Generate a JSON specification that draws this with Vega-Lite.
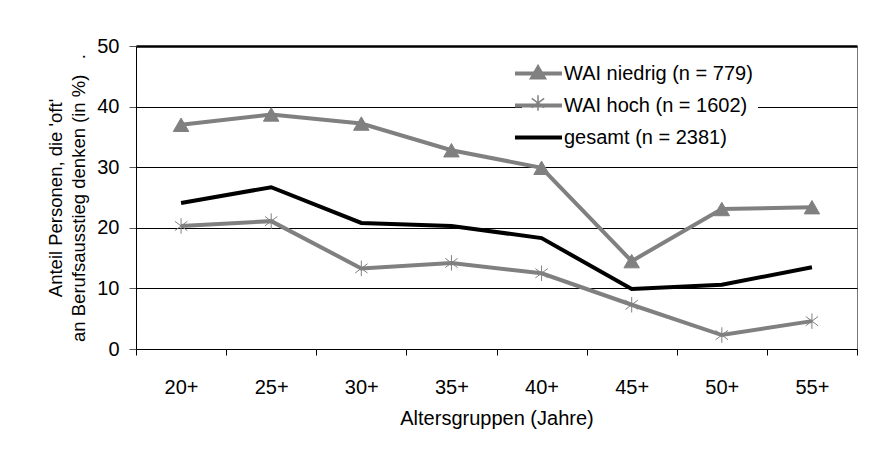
{
  "$schema": "https://vega.github.io/schema/vega-lite/v6.json",
  "width": 721,
  "height": 303,
  "autosize": "none",
  "padding": {"left": 136, "top": 46, "right": 23, "bottom": 102},
  "background": "white",
  "config": {
    "font": "Liberation Sans",
    "view": {"stroke": "#777", "strokeWidth": 1},
    "axis": {"labelColor": "#000", "titleColor": "#000", "titleFontWeight": "normal", "labelFont": "Liberation Sans", "titleFont": "Liberation Sans"},
    "legend": {"labelFont": "Liberation Sans", "labelColor": "#000", "labelLimit": 400}
  },
  "data": {
    "values": [
      {"gruppe": "20+", "serie": "WAI niedrig (n = 779)", "wert": 37.0},
      {"gruppe": "25+", "serie": "WAI niedrig (n = 779)", "wert": 38.7},
      {"gruppe": "30+", "serie": "WAI niedrig (n = 779)", "wert": 37.2},
      {"gruppe": "35+", "serie": "WAI niedrig (n = 779)", "wert": 32.8},
      {"gruppe": "40+", "serie": "WAI niedrig (n = 779)", "wert": 29.9},
      {"gruppe": "45+", "serie": "WAI niedrig (n = 779)", "wert": 14.5},
      {"gruppe": "50+", "serie": "WAI niedrig (n = 779)", "wert": 23.1},
      {"gruppe": "55+", "serie": "WAI niedrig (n = 779)", "wert": 23.4},
      {"gruppe": "20+", "serie": "WAI hoch (n = 1602)", "wert": 20.3},
      {"gruppe": "25+", "serie": "WAI hoch (n = 1602)", "wert": 21.1},
      {"gruppe": "30+", "serie": "WAI hoch (n = 1602)", "wert": 13.3},
      {"gruppe": "35+", "serie": "WAI hoch (n = 1602)", "wert": 14.2},
      {"gruppe": "40+", "serie": "WAI hoch (n = 1602)", "wert": 12.5},
      {"gruppe": "45+", "serie": "WAI hoch (n = 1602)", "wert": 7.3},
      {"gruppe": "50+", "serie": "WAI hoch (n = 1602)", "wert": 2.3},
      {"gruppe": "55+", "serie": "WAI hoch (n = 1602)", "wert": 4.6},
      {"gruppe": "20+", "serie": "gesamt (n = 2381)", "wert": 24.1},
      {"gruppe": "25+", "serie": "gesamt (n = 2381)", "wert": 26.7},
      {"gruppe": "30+", "serie": "gesamt (n = 2381)", "wert": 20.8},
      {"gruppe": "35+", "serie": "gesamt (n = 2381)", "wert": 20.3},
      {"gruppe": "40+", "serie": "gesamt (n = 2381)", "wert": 18.3},
      {"gruppe": "45+", "serie": "gesamt (n = 2381)", "wert": 9.9},
      {"gruppe": "50+", "serie": "gesamt (n = 2381)", "wert": 10.6},
      {"gruppe": "55+", "serie": "gesamt (n = 2381)", "wert": 13.5}
    ]
  },
  "encoding": {
    "x": {
      "field": "gruppe",
      "type": "ordinal",
      "sort": null,
      "scale": {"type": "band", "paddingInner": 0, "paddingOuter": 0},
      "axis": {
        "title": "Altersgruppen (Jahre)",
        "titleFontSize": 20,
        "titlePadding": 11,
        "labelFontSize": 20,
        "labelPadding": 22,
        "labelAngle": 0,
        "tickBand": "extent",
        "tickSize": 6,
        "tickColor": "#000",
        "domainColor": "#000",
        "grid": false
      }
    },
    "y": {
      "field": "wert",
      "type": "quantitative",
      "scale": {"domain": [0, 50], "nice": false},
      "axis": {
        "title": ["Anteil Personen, die 'oft'", "an Berufsausstieg denken (in %)\u00a0\u00a0\u00a0."],
        "titleFontSize": 18.5,
        "titleLineHeight": 23,
        "titlePadding": 8,
        "values": [0, 10, 20, 30, 40, 50],
        "labelFontSize": 20,
        "labelPadding": 10,
        "tickSize": 7,
        "tickColor": "#555",
        "domainColor": "#000",
        "grid": true,
        "gridColor": "#000",
        "gridOpacity": 1,
        "gridWidth": {"condition": {"test": "datum.value === 50", "value": 2.5}, "value": 1}
      }
    }
  },
  "layer": [
    {
      "mark": {"type": "line", "strokeWidth": 4},
      "encoding": {
        "stroke": {
          "field": "serie",
          "type": "nominal",
          "scale": {
            "domain": ["WAI niedrig (n = 779)", "WAI hoch (n = 1602)", "gesamt (n = 2381)"],
            "range": ["#808080", "#808080", "#000000"]
          },
          "legend": {
            "orient": "none",
            "legendX": 386,
            "legendY": 11,
            "title": null,
            "symbolType": "M-2.5,0L2.5,0",
            "symbolSize": 354,
            "symbolStrokeWidth": 4,
            "labelFontSize": 20,
            "labelOffset": 14,
            "padding": 5,
            "fillColor": "white",
            "rowPadding": 10
          }
        }
      }
    },
    {
      "transform": [{"filter": "datum.serie !== 'gesamt (n = 2381)'"}],
      "mark": {"type": "point", "filled": true, "fill": "#808080", "stroke": "#808080", "strokeWidth": 1, "opacity": 1, "size": 240},
      "encoding": {
        "shape": {
          "field": "serie",
          "type": "nominal",
          "scale": {
            "domain": ["WAI niedrig (n = 779)", "WAI hoch (n = 1602)"],
            "range": ["triangle-up", "M0,-1L0,1M-0.8,-0.6L0.8,0.6M-0.8,0.6L0.8,-0.6"]
          },
          "legend": {
            "orient": "none",
            "legendX": 387,
            "legendY": 11,
            "title": null,
            "symbolSize": 240,
            "labelFontSize": 20,
            "labelExpr": "'\u00a0'",
            "labelOffset": 0,
            "padding": 5,
            "rowPadding": 10,
            "encode": {
              "symbols": {
                "update": {
                  "stroke": {"value": "#808080"},
                  "strokeWidth": {"value": 1},
                  "fill": {"value": "#808080"},
                  "opacity": {"value": 1}
                }
              }
            }
          }
        }
      }
    }
  ]
}
